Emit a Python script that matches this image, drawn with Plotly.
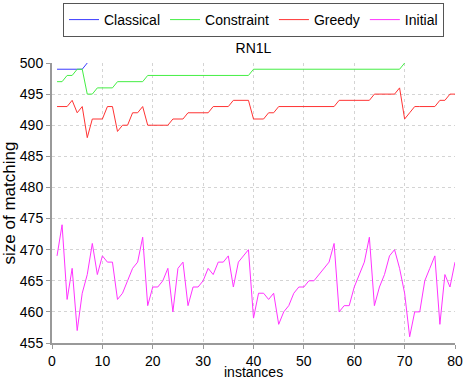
import plotly.graph_objects as go

classical = [499, 499, 499, 499, 499, 499, 500]
constraint = [497, 497, 498, 498, 499, 499, 495, 495, 496, 496,
              496, 496, 497, 497, 497, 497, 497, 497, 498, 498,
              498, 498, 498, 498, 498, 498, 498, 498, 498, 498,
              498, 498, 498, 498, 498, 498, 498, 498, 498, 499,
              499, 499, 499, 499, 499, 499, 499, 499, 499, 499,
              499, 499, 499, 499, 499, 499, 499, 499, 499, 499,
              499, 499, 499, 499, 499, 499, 499, 499, 499, 500]
greedy = [493, 493, 493, 494, 492, 493, 488, 491, 491, 491,
          493, 493, 489, 490, 490, 492, 492, 493, 490, 490,
          490, 490, 490, 491, 491, 491, 492, 492, 492, 492,
          492, 493, 493, 493, 493, 494, 494, 494, 494, 491,
          491, 491, 492, 492, 493, 493, 493, 493, 493, 493,
          493, 493, 493, 493, 493, 493, 494, 494, 494, 494,
          494, 494, 494, 495, 495, 495, 495, 495, 496, 491,
          492, 493, 493, 493, 493, 493, 494, 494, 495, 495]
initial = [469, 474, 462, 467, 457, 463, 466, 471, 466, 469,
           468, 468, 462, 463, 465, 467, 468, 472, 461, 464,
           464, 465, 467, 460, 467, 468, 461, 464, 464, 465,
           467, 466, 468, 468, 469, 464, 468, 469, 470, 459,
           463, 463, 462, 463, 458, 460, 461, 463, 464, 464,
           465, 465, 466, 467, 468, 471, 460, 461, 461, 464,
           466, 468, 472, 461, 464, 466, 469, 470, 467, 463,
           456, 460, 460, 465, 467, 469, 458, 466, 464, 468]

series = [("Classical", classical, "#3a3aff"),
          ("Constraint", constraint, "#44ee44"),
          ("Greedy", greedy, "#ff3333"),
          ("Initial", initial, "#ff33ff")]

x_ticks = list(range(0, 81, 10))
y_ticks = list(range(455, 501, 5))

fig = go.Figure()
for name, vals, color in series:
    fig.add_trace(go.Scatter(
        x=list(range(1, len(vals) + 1)), y=vals, mode="lines", name=name,
        line=dict(color=color, width=1)))

font = dict(family="Liberation Sans, Arial, sans-serif", size=14, color="black")
axis_common = dict(
    showgrid=True, gridcolor="#d4d4d4", griddash="dot", gridwidth=1,
    showline=True, linecolor="#999999", linewidth=2,
    ticks="outside", ticklen=4, tickcolor="#999999", tickwidth=1,
    zeroline=False, tickfont=font, automargin=False)

fig.update_layout(
    width=463, height=380,
    margin=dict(l=52, r=8, t=63, b=37, autoexpand=False),
    paper_bgcolor="white", plot_bgcolor="white",
    font=font,
    title=dict(text="RN1L", x=0.5, xref="paper", xanchor="center",
               y=1 - 48 / 380, yref="container", yanchor="middle",
               font=dict(size=14)),
    legend=dict(orientation="h", x=0.5, xanchor="center", xref="paper",
                y=1 - 3 / 380, yref="container", yanchor="top",
                bordercolor="#555555", borderwidth=1, bgcolor="white",
                font=font),
    showlegend=True,
    annotations=[dict(text="instances", xref="paper", yref="paper",
                      x=0.5, y=-0.102, xanchor="center", yanchor="middle",
                      showarrow=False, font=font)],
)
fig.update_xaxes(range=[0, 80], tickvals=x_ticks, ticktext=[str(v) for v in x_ticks],
                 **axis_common)
fig.update_yaxes(range=[455, 500], tickvals=y_ticks, ticktext=[str(v) for v in y_ticks],
                 title=dict(text="size of matching", standoff=8), **axis_common)

fig.write_html("out.html", config={"displayModeBar": False},
               post_script="document.body.style.margin='0';document.body.style.overflow='hidden';")
